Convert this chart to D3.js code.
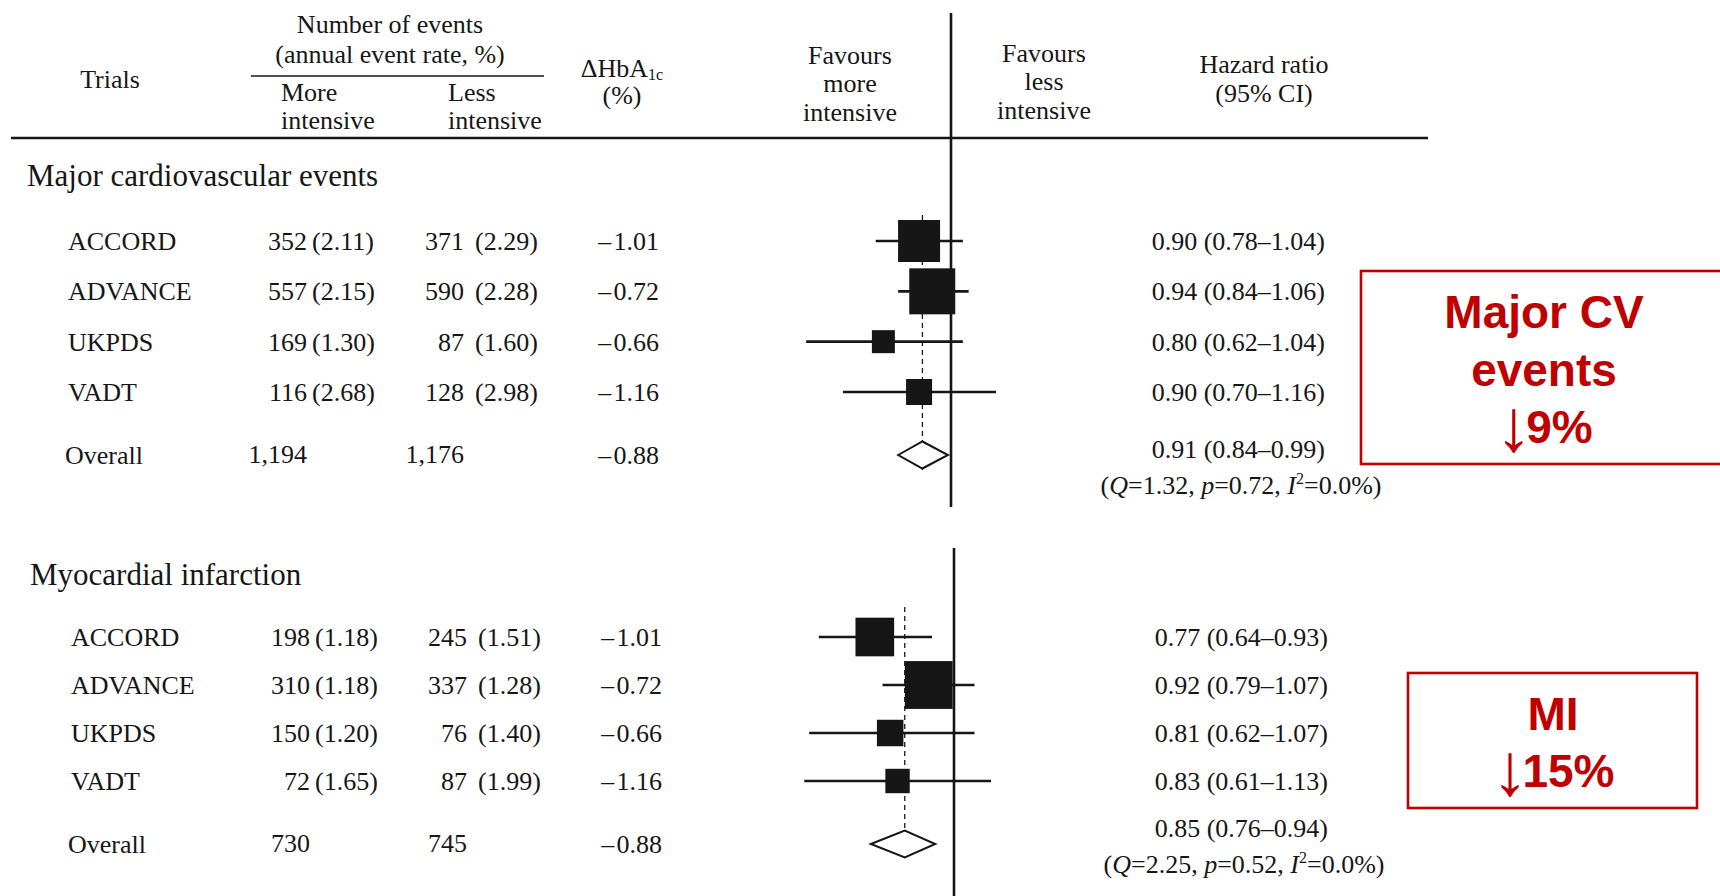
<!DOCTYPE html>
<html>
<head>
<meta charset="utf-8">
<script src="https://cdn.jsdelivr.net/npm/d3@7"></script>
<style>
  body { margin: 0; background: #fff; }
  svg { display: block; }
  .serif { font-family: "Liberation Serif", "Times New Roman", serif; fill: #161616; }
  .callout { font-family: "Liberation Sans", Arial, sans-serif; font-weight: bold; fill: #c00000; }
</style>
</head>
<body>
<svg id="chart" width="1720" height="896"></svg>
<script>
// trials (same order in both outcomes)
const trials = ['ACCORD', 'ADVANCE', 'UKPDS', 'VADT'];
const hba1cDiff = [-1.01, -0.72, -0.66, -1.16];

// major cardiovascular events
const maceMoreN = [352, 557, 169, 116];
const maceMoreRate = [2.11, 2.15, 1.30, 2.68];
const maceLessN = [371, 590, 87, 128];
const maceLessRate = [2.29, 2.28, 1.60, 2.98];
const maceHR = [0.90, 0.94, 0.80, 0.90];
const maceLo = [0.78, 0.84, 0.62, 0.70];
const maceHi = [1.04, 1.06, 1.04, 1.16];
const maceWeight = [34.7, 41.6, 10.4, 13.3];
const maceOverall = { more: 1194, less: 1176, dHb: -0.88, hr: 0.91, lo: 0.84, hi: 0.99, Q: 1.32, p: 0.72, I2: 0.0 };

// myocardial infarction
const miMoreN = [198, 310, 150, 72];
const miMoreRate = [1.18, 1.18, 1.20, 1.65];
const miLessN = [245, 337, 76, 87];
const miLessRate = [1.51, 1.28, 1.40, 1.99];
const miHR = [0.77, 0.92, 0.81, 0.83];
const miLo = [0.64, 0.79, 0.62, 0.61];
const miHi = [0.93, 1.07, 1.07, 1.13];
const miWeight = [29.4, 45.0, 13.8, 11.7];
const miOverall = { more: 730, less: 745, dHb: -0.88, hr: 0.85, lo: 0.76, hi: 0.94, Q: 2.25, p: 0.52, I2: 0.0 };

// callout boxes
const calloutMace = ['Major CV', 'events', '9%'];
const calloutMi = ['MI', '15%'];

const svg = d3.select('#chart');
const ink = '#161616';
const red = '#c00000';
const f2 = d3.format('.2f');
const fN = d3.format(',');
const dash = '\u2013';

// hazard ratio axis (log), 1.0 at x=951
const x = d3.scaleLog().domain([0.5, 1]).range([951 - 303 * Math.LN2, 951]);
const side = d3.scaleSqrt().domain([0, 100]).range([0, 71.3]);

function txt(g, px, py, s, anchor = 'start', size = 26) {
    return g.append('text').attr('class', 'serif')
        .attr('x', px).attr('y', py)
        .attr('text-anchor', anchor)
        .attr('font-size', size)
        .text(s);
}

// ---- header ----
const head = svg.append('g');
txt(head, 110, 88, 'Trials', 'middle');
txt(head, 390, 33, 'Number of events', 'middle');
txt(head, 390, 63, '(annual event rate, %)', 'middle');
head.append('line').attr('x1', 251).attr('x2', 544).attr('y1', 76).attr('y2', 76)
    .attr('stroke', ink).attr('stroke-width', 1.6);
txt(head, 281, 101, 'More');
txt(head, 281, 129, 'intensive');
txt(head, 448, 101, 'Less');
txt(head, 448, 129, 'intensive');
const hb = txt(head, 622, 77, '\u0394HbA', 'middle');
hb.append('tspan').attr('font-size', 16).attr('dy', 3).text('1c');
txt(head, 622, 104, '(%)', 'middle');
txt(head, 850, 64, 'Favours', 'middle');
txt(head, 850, 92, 'more', 'middle');
txt(head, 850, 121, 'intensive', 'middle');
txt(head, 1044, 62, 'Favours', 'middle');
txt(head, 1044, 90, 'less', 'middle');
txt(head, 1044, 119, 'intensive', 'middle');
txt(head, 1264, 73, 'Hazard ratio', 'middle');
txt(head, 1264, 102, '(95% CI)', 'middle');
head.append('line').attr('x1', 11).attr('x2', 1428).attr('y1', 138).attr('y2', 138)
    .attr('stroke', ink).attr('stroke-width', 2.6);

// ---- sections ----
const sections = [
    { title: 'Major cardiovascular events', moreN: maceMoreN, moreRate: maceMoreRate, lessN: maceLessN,
      lessRate: maceLessRate, hr: maceHR, lo: maceLo, hi: maceHi, w: maceWeight, overall: maceOverall,
      dx: 0, titleY: 186, rows: [241, 392], overallY: 455, hrOverallY: 449, qY: 485,
      nullLine: [13, 507], dashLine: [215, 470] },
    { title: 'Myocardial infarction', moreN: miMoreN, moreRate: miMoreRate, lessN: miLessN,
      lessRate: miLessRate, hr: miHR, lo: miLo, hi: miHi, w: miWeight, overall: miOverall,
      dx: 3, titleY: 585, rows: [637, 781], overallY: 844, hrOverallY: 828, qY: 864,
      nullLine: [548, 900], dashLine: [607, 858] }
];

sections.forEach(sec => {
    const g = svg.append('g').attr('transform', `translate(${sec.dx},0)`);
    const y = d3.scalePoint().domain(trials).range(sec.rows);
    const o = sec.overall;

    txt(g, 27, sec.titleY, sec.title, 'start', 31);

    // null line and pooled estimate line
    g.append('line').attr('x1', x(1)).attr('x2', x(1))
        .attr('y1', sec.nullLine[0]).attr('y2', sec.nullLine[1])
        .attr('stroke', ink).attr('stroke-width', 2.6);
    g.append('line').attr('x1', x(o.hr)).attr('x2', x(o.hr))
        .attr('y1', sec.dashLine[0]).attr('y2', sec.dashLine[1])
        .attr('stroke', ink).attr('stroke-width', 1.3).attr('stroke-dasharray', '5,4');

    trials.forEach((t, i) => {
        const cy = y(t);
        const by = cy + 9;
        txt(g, 68, by, t);
        txt(g, 307, by, sec.moreN[i], 'end');
        txt(g, 312, by, `(${f2(sec.moreRate[i])})`);
        txt(g, 464, by, sec.lessN[i], 'end');
        txt(g, 475, by, `(${f2(sec.lessRate[i])})`);
        txt(g, 659, by, dash + '\u200a' + f2(Math.abs(hba1cDiff[i])), 'end');
        txt(g, 1325, by, `${f2(sec.hr[i])} (${f2(sec.lo[i])}${dash}${f2(sec.hi[i])})`, 'end');

        g.append('line').attr('x1', x(sec.lo[i])).attr('x2', x(sec.hi[i]))
            .attr('y1', cy).attr('y2', cy)
            .attr('stroke', ink).attr('stroke-width', 2.6);
        const s = side(sec.w[i]);
        g.append('rect').attr('x', x(sec.hr[i]) - s / 2).attr('y', cy - s / 2)
            .attr('width', s).attr('height', s).attr('fill', ink);
    });

    // overall row
    const oy = sec.overallY;
    txt(g, 65, oy + 9, 'Overall');
    txt(g, 307, oy + 8, fN(o.more), 'end');
    txt(g, 464, oy + 8, fN(o.less), 'end');
    txt(g, 659, oy + 9, dash + '\u200a' + f2(Math.abs(o.dHb)), 'end');
    const dh = 13.5;
    g.append('path')
        .attr('d', `M${x(o.lo)},${oy} L${x(o.hr)},${oy - dh} L${x(o.hi)},${oy} L${x(o.hr)},${oy + dh} Z`)
        .attr('fill', '#fff').attr('stroke', ink).attr('stroke-width', 2);
    txt(g, 1325, sec.hrOverallY + 9, `${f2(o.hr)} (${f2(o.lo)}${dash}${f2(o.hi)})`, 'end');

    const q = txt(g, 1241, sec.qY + 9, '', 'middle');
    q.append('tspan').text('(');
    q.append('tspan').attr('font-style', 'italic').text('Q');
    q.append('tspan').text('=' + f2(o.Q) + ', ');
    q.append('tspan').attr('font-style', 'italic').text('p');
    q.append('tspan').text('=' + f2(o.p) + ', ');
    q.append('tspan').attr('font-style', 'italic').text('I');
    q.append('tspan').attr('font-size', 16).attr('dy', -10).text('2');
    q.append('tspan').attr('dy', 10).text('=' + d3.format('.1f')(o.I2) + '%)');
});

// ---- red callouts ----
function callout(box, lines, cx, firstBase, step) {
    svg.append('rect').attr('x', box[0]).attr('y', box[1])
        .attr('width', box[2]).attr('height', box[3])
        .attr('fill', 'none').attr('stroke', red).attr('stroke-width', 2.6);
    lines.forEach((l, i) => {
        const t = svg.append('text').attr('class', 'callout')
            .attr('x', cx).attr('y', firstBase + i * step)
            .attr('text-anchor', 'middle').attr('font-size', 46);
        if (i === lines.length - 1) {
            // thin down arrow, taller than the digits and dipping below the baseline
            t.append('tspan').attr('font-weight', 'normal').attr('font-size', 74)
                .attr('dy', 8).text('\u2193');
            t.append('tspan').attr('dy', -8).attr('dx', -6).text(l);
        } else {
            t.text(l);
        }
    });
}
callout([1361, 271, 366, 193], calloutMace, 1544, 328, 57.5);
callout([1408, 673, 289, 135], calloutMi, 1553, 730, 57);
</script>
</body>
</html>
